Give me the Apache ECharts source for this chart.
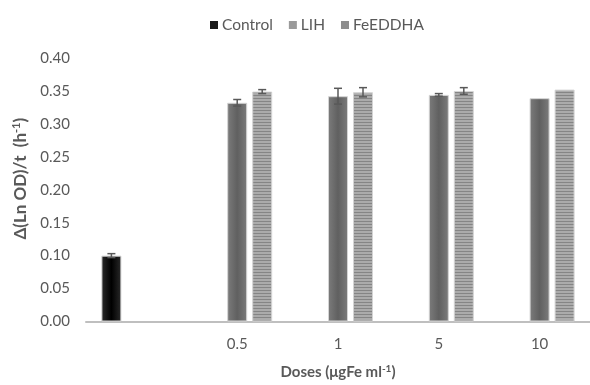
<!DOCTYPE html>
<html>
<head>
<meta charset="utf-8">
<script src="https://cdn.jsdelivr.net/npm/echarts@6/dist/echarts.min.js"></script>
<style>
  html, body { margin: 0; padding: 0; background: #ffffff; }
  #chart { width: 590px; height: 385px; }
</style>
</head>
<body>
<div id="chart"></div>
<script>
// Growth rate by iron dose
const categories = ['', '0.5', '1', '5', '10'];
const seriesNames = ['Control', 'LIH', 'FeEDDHA'];
const controlValues = [0.100, null, null, null, null];
const lihValues = [null, 0.332, 0.342, 0.344, 0.339];
const feeddhaValues = [null, 0.349, 0.348, 0.350, 0.352];
const controlErrors = [0.003, null, null, null, null];
const lihErrors = [null, 0.005, 0.012, 0.002, 0];
const feeddhaErrors = [null, 0.003, 0.007, 0.005, 0];
const yTicks = { min: 0, max: 0.4, step: 0.05 };

const FONT = 'Lato, "Open Sans", sans-serif';
const TEXT = '#595959';
const BAR_W = 20;
const BAR_GAP = 5;

// horizontally striped fill
function stripePattern() {
  const c = document.createElement('canvas');
  c.width = 4; c.height = 3;
  const g = c.getContext('2d');
  g.fillStyle = '#ababab';
  g.fillRect(0, 0, 4, 3);
  g.fillStyle = '#858585';
  g.fillRect(0, 2, 4, 1);
  return c;
}

const fills = [
  { type: 'linear', x: 0, y: 0, x2: 1, y2: 0,
    colorStops: [{ offset: 0, color: '#2a2a2a' }, { offset: 0.5, color: '#000000' }, { offset: 1, color: '#2a2a2a' }] },
  { type: 'linear', x: 0, y: 0, x2: 1, y2: 0,
    colorStops: [{ offset: 0, color: '#7c7c7c' }, { offset: 0.5, color: '#606060' }, { offset: 1, color: '#7c7c7c' }] },
  { image: stripePattern(), repeat: 'repeat' }
];
const legendColors = ['#1a1a1a', '#9a9a9a', '#8e8e8e'];

const valueSets = [controlValues, lihValues, feeddhaValues];
const errorSets = [controlErrors, lihErrors, feeddhaErrors];

const barSeries = seriesNames.map((name, i) => ({
  name: name,
  type: 'bar',
  data: valueSets[i],
  barWidth: BAR_W,
  barGap: '25%',
  itemStyle: { color: fills[i], borderColor: '#d4d4d4', borderWidth: 1 },
  emphasis: { disabled: true },
  z: 2
}));

// error whiskers drawn on top of each bar
const errorSeries = seriesNames.map((name, i) => ({
  type: 'custom',
  name: name,
  z: 5,
  silent: true,
  data: valueSets[i].map((v, k) => (v == null || !errorSets[i][k]) ? null : [k, v, errorSets[i][k]]).filter(d => d),
  renderItem: function (params, api) {
    const k = api.value(0), v = api.value(1), e = api.value(2);
    const off = (i - 1) * (BAR_W + BAR_GAP);
    const hi = api.coord([k, v + e]);
    const lo = api.coord([k, v - e]);
    const x = hi[0] + off;
    const cap = 4;
    const st = { stroke: '#595959', lineWidth: 1.5 };
    return {
      type: 'group',
      children: [
        { type: 'line', shape: { x1: x, y1: hi[1], x2: x, y2: lo[1] }, style: st },
        { type: 'line', shape: { x1: x - cap, y1: hi[1], x2: x + cap, y2: hi[1] }, style: st },
        { type: 'line', shape: { x1: x - cap, y1: lo[1], x2: x + cap, y2: lo[1] }, style: st }
      ]
    };
  }
}));

const chart = echarts.init(document.getElementById('chart'), null, { renderer: 'canvas' });
chart.setOption({
  animation: false,
  backgroundColor: '#ffffff',
  textStyle: { fontFamily: FONT },
  legend: {
    top: 12,
    left: 205,
    itemWidth: 8,
    itemHeight: 8,
    itemGap: 16,
    icon: 'rect',
    data: seriesNames.map((n, i) => ({ name: n, itemStyle: { color: legendColors[i], borderWidth: 0 } })),
    textStyle: { color: TEXT, fontSize: 15.5, fontFamily: FONT, padding: [0, 0, 0, -1] }
  },
  grid: { left: 86, top: 58, width: 510, height: 271, containLabel: false },
  xAxis: {
    type: 'category',
    data: categories,
    axisLine: { lineStyle: { color: '#bfbfbf', width: 2 } },
    axisTick: { show: false },
    axisLabel: { color: TEXT, fontSize: 15, fontFamily: FONT, margin: 15 },
    name: '{b|Doses (μgFe ml}{s|-1}{b|)}',
    nameLocation: 'middle',
    nameGap: 42,
    nameTextStyle: {
      rich: {
        b: { fontSize: 15, fontWeight: 'bold', color: TEXT, fontFamily: FONT, lineHeight: 18 },
        s: { fontSize: 10, fontWeight: 'bold', color: TEXT, fontFamily: FONT, verticalAlign: 'top', lineHeight: 18 }
      }
    }
  },
  yAxis: {
    type: 'value',
    min: yTicks.min,
    max: yTicks.max,
    interval: yTicks.step,
    splitLine: { show: false },
    axisLine: { show: false },
    axisTick: { show: false },
    axisLabel: { color: TEXT, fontSize: 15, fontFamily: FONT, margin: 16, formatter: v => v.toFixed(2) },
    name: '{b|Δ(Ln OD)/t  (h}{s|-1}{b|)}',
    nameLocation: 'middle',
    nameGap: 54,
    nameRotate: 90,
    nameTextStyle: {
      padding: [0, 0, 0, 22],
      rich: {
        b: { fontSize: 17, fontWeight: 'bold', color: TEXT, fontFamily: FONT, lineHeight: 20 },
        s: { fontSize: 11, fontWeight: 'bold', color: TEXT, fontFamily: FONT, verticalAlign: 'top', lineHeight: 20 }
      }
    }
  },
  series: barSeries.concat(errorSeries)
});
</script>
</body>
</html>
